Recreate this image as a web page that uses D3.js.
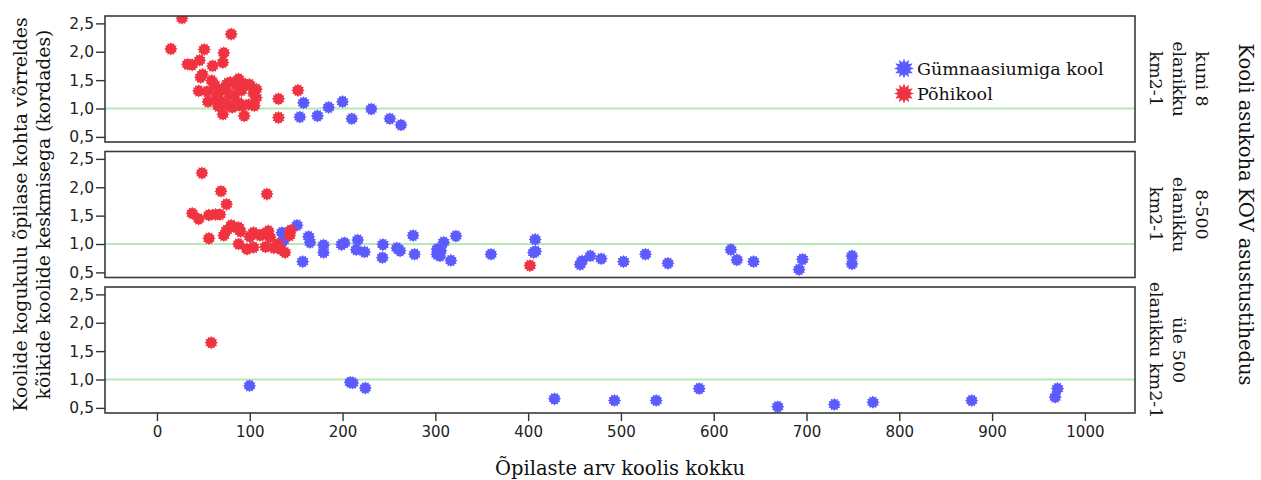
<!DOCTYPE html>
<html><head><meta charset="utf-8">
<script src="https://cdn.jsdelivr.net/npm/d3@7"></script>
<style>body{margin:0;background:#fff}svg{display:block}</style>
</head><body>
<svg id="c" width="1261" height="480"></svg>
<script>
// ---- data ----
const seriesNames = ["Gümnaasiumiga kool", "Põhikool"];
const panelLabels = [["kuni 8", "elanikku", "km2-1"], ["8-500", "elanikku", "km2-1"], ["üle 500", "elanikku km2-1"]];
const xTicks = [0,100,200,300,400,500,600,700,800,900,1000];
const yTicks = [0.5,1.0,1.5,2.0,2.5];
const refValue = 1.0;

// [students, ratio]
const p1Gym = [[158,1.10],[154,0.85],[173,0.87],[185,1.02],[200,1.12],[210,0.82],[231,0.99],[251,0.82],[263,0.71]];
const p1Pohi = [[27,2.59],[80,2.31],[15,2.05],[51,2.04],[72,1.98],[71,1.81],[46,1.85],[38,1.77],[33,1.78],[60,1.75],[47,1.55],[49,1.60],
  [45,1.31],[59,1.49],[68,1.31],[79,1.46],[88,1.52],[95,1.43],[83,1.22],[107,1.34],[107,1.19],[105,1.05],[55,1.12],[66,1.04],
  [71,0.90],[81,1.02],[92,1.05],[94,0.87],[131,1.17],[131,0.84],[152,1.32],[54,1.30],[62,1.42],[65,1.28],[73,1.37],[76,1.44],
  [78,1.25],[86,1.40],[88,1.10],[91,1.32],[100,1.42],[99,1.07],[85,1.05],[64,1.18],[70,1.12],[75,1.08],[104,1.27]];
const p2Gym = [[134.7,1.20],[136.4,1.06],[151,1.33],[163.4,1.13],[165,1.03],[157,0.69],[179.5,0.98],[179.5,0.85],[199,0.99],[202,1.02],
  [216.4,1.07],[214.8,0.90],[223.7,0.86],[243.5,0.99],[243,0.76],[258.6,0.93],[262,0.88],[276,1.15],[277.6,0.82],[301.7,0.82],
  [305,0.79],[309,1.03],[302,0.91],[306,0.88],[316.8,0.71],[322.2,1.14],[360,0.82],[407.6,1.08],[405.8,0.85],[408,0.87],
  [456,0.64],[458,0.70],[467,0.79],[478.8,0.74],[502.8,0.69],[526.5,0.82],[550.6,0.66],[618.5,0.90],[625,0.72],[642.9,0.69],
  [695.7,0.73],[692,0.55],[749,0.79],[749,0.65]];
const p2Pohi = [[48.5,2.25],[69,1.93],[118.5,1.88],[75,1.70],[38,1.54],[45,1.44],[56,1.51],[63,1.52],[68,1.52],[56,1.10],[72,1.15],
  [80,1.33],[88,1.29],[75,1.24],[83,1.30],[90,1.22],[88,1.0],[97,0.91],[104,0.94],[104,1.20],[111,1.15],[120,1.23],[122,1.12],
  [126,0.93],[133,0.91],[138,0.85],[144,1.24],[143,1.15],[100,1.13],[114,1.17],[117,0.95],[130,1.0],[402,0.62]];
const p3Gym = [[99.8,0.89],[208.3,0.95],[211,0.94],[224.5,0.85],[428.4,0.66],[493,0.63],[538,0.63],[584.4,0.84],[669,0.52],
  [730,0.56],[771.6,0.60],[878,0.63],[968,0.69],[970.5,0.84]];
const p3Pohi = [[58.5,1.65]];

const panels = [
  {gym: p1Gym, pohi: p1Pohi, label: panelLabels[0]},
  {gym: p2Gym, pohi: p2Pohi, label: panelLabels[1]},
  {gym: p3Gym, pohi: p3Pohi, label: panelLabels[2]}
];

// ---- layout ----
const svg = d3.select("#c");
const L = 105, R = 1135, tops = [16, 151.5, 287], H = 126;
const blue = "#5b5bff", red = "#ef3340";
const serif = "'DejaVu Serif', serif", sans = "'DejaVu Sans', sans-serif";
const loc = d3.formatLocale({decimal: ",", thousands: "", grouping: [3], currency: ["", ""]});
const fy = loc.format(".1f");

const x = d3.scaleLinear().domain([-56, 1054]).range([L, R]);

function starPath(ro, ri, n) {
  const pts = [];
  for (let i = 0; i < 2 * n; i++) {
    const a = Math.PI * i / n - Math.PI / 2;
    const r = i % 2 === 0 ? ro : ri;
    pts.push([r * Math.cos(a), r * Math.sin(a)]);
  }
  return "M" + pts.map(p => p[0].toFixed(2) + "," + p[1].toFixed(2)).join("L") + "Z";
}
const mark = starPath(6.6, 5.0, 12);
const legMark = starPath(10, 6.2, 12);

panels.forEach((p, i) => {
  const top = tops[i];
  const y = d3.scaleLinear().domain([0.41, 2.63]).range([top + H, top]);
  const g = svg.append("g");
  const clipId = "clip" + i;
  svg.append("clipPath").attr("id", clipId).append("rect")
    .attr("x", L).attr("y", top).attr("width", R - L).attr("height", H);

  g.append("line").attr("x1", L).attr("x2", R).attr("y1", y(refValue)).attr("y2", y(refValue))
    .attr("stroke", "#b3ebb3").attr("stroke-width", 2.2);

  const pg = g.append("g").attr("clip-path", `url(#${clipId})`);
  pg.selectAll("path.g").data(p.gym).join("path").attr("class", "g")
    .attr("d", mark).attr("transform", d => `translate(${x(d[0])},${y(d[1])})`).attr("fill", blue);
  pg.selectAll("path.r").data(p.pohi).join("path").attr("class", "r")
    .attr("d", mark).attr("transform", d => `translate(${x(d[0])},${y(d[1])})`).attr("fill", red);

  g.append("rect").attr("x", L).attr("y", top).attr("width", R - L).attr("height", H)
    .attr("fill", "none").attr("stroke", "#3a3a3a").attr("stroke-width", 1.6);

  const ya = g.append("g").attr("transform", `translate(${L},0)`)
    .call(d3.axisLeft(y).tickValues(yTicks).tickFormat(fy).tickSize(9).tickPadding(2).tickSizeOuter(0));
  ya.select(".domain").remove();
  ya.selectAll("line").attr("stroke", "#333").attr("stroke-width", 1.4);
  ya.selectAll("text").attr("font-family", sans).attr("font-size", 15.5).attr("fill", "#222");

  const n = p.label.length;
  p.label.forEach((t, j) => {
    const lx = 1156 + (n - 1 - j) * 23;
    svg.append("text").attr("transform", `translate(${lx},${top + H / 2}) rotate(90)`)
      .attr("text-anchor", "middle").attr("dominant-baseline", "central")
      .attr("font-family", serif).attr("font-size", 17.5).attr("fill", "#111").text(t);
  });

  if (i === 2) {
    const xa = svg.append("g").attr("transform", `translate(0,${top + H})`)
      .call(d3.axisBottom(x).tickValues(xTicks).tickFormat(d3.format("d")).tickSize(8).tickPadding(5).tickSizeOuter(0));
    xa.select(".domain").remove();
    xa.selectAll("line").attr("stroke", "#333").attr("stroke-width", 1.4);
    xa.selectAll("text").attr("font-family", sans).attr("font-size", 15).attr("fill", "#222");
  }
});

// legend
const leg = svg.append("g");
[[seriesNames[0], blue, 68.5], [seriesNames[1], red, 93.5]].forEach(([t, c, ly]) => {
  leg.append("path").attr("d", legMark).attr("transform", `translate(904,${ly})`).attr("fill", c);
  leg.append("text").attr("x", 917).attr("y", ly).attr("dominant-baseline", "central")
    .attr("font-family", serif).attr("font-size", 17.5).attr("fill", "#111").text(t);
});

// axis titles
const midY = (tops[0] + tops[2] + H) / 2;
svg.append("text").attr("x", (L + R) / 2).attr("y", 475).attr("text-anchor", "middle")
  .attr("font-family", serif).attr("font-size", 19.5).attr("fill", "#111").text("Õpilaste arv koolis kokku");
[["Koolide kogukulu õpilase kohta võrreldes", 20], ["kõikide koolide keskmisega (kordades)", 43]].forEach(([t, lx]) => {
  svg.append("text").attr("transform", `translate(${lx},${midY}) rotate(-90)`)
    .attr("text-anchor", "middle").attr("dominant-baseline", "central")
    .attr("font-family", serif).attr("font-size", 18.8).attr("fill", "#111").text(t);
});
svg.append("text").attr("transform", `translate(1245,${midY}) rotate(90)`)
  .attr("text-anchor", "middle").attr("dominant-baseline", "central")
  .attr("font-family", serif).attr("font-size", 19.5).attr("fill", "#111").text("Kooli asukoha KOV asustustihedus");
</script>
</body></html>
